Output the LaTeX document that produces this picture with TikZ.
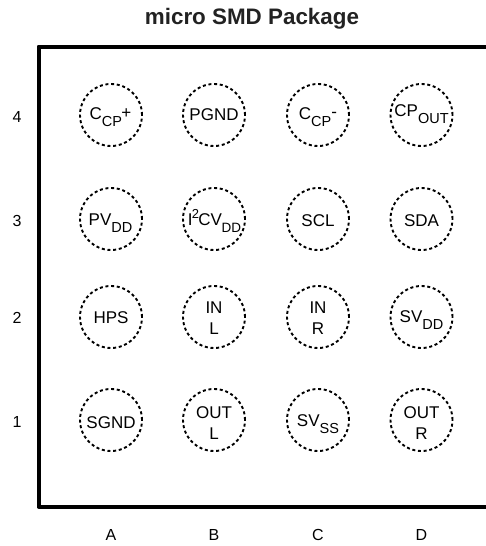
\documentclass[tikz,border=0pt]{standalone}
\usepackage{fontspec}
\setmainfont{Liberation Sans}
\definecolor{titleink}{HTML}{222222}
\tikzset{
  pin/.style={circle,draw=black,line width=1.9pt,dash pattern=on 3pt off 2.7pt,minimum size=62pt,inner sep=0pt},
  pintext/.style={inner sep=0pt,align=center,font=\fontsize{17}{21}\selectfont},
  lab/.style={inner sep=0pt,font=\fontsize{16}{18}\selectfont}
}
\newcommand{\sbs}[1]{\smash{\raisebox{-7pt}{\fontsize{14.5}{15}\selectfont #1}}}
\newcommand{\sps}[2]{\smash{\raisebox{#1}{\fontsize{17}{15}\selectfont #2}}}
\begin{document}
\begin{tikzpicture}[x=1pt,y=-1pt]
\useasboundingbox (0,0) rectangle (486,546);
\node[inner sep=0pt,anchor=base,text=titleink,font=\bfseries\fontsize{22.4}{25}\selectfont] (title) at (252,24.5) {micro SMD Package};
\draw[line width=4pt,line join=round] (486,46.5) -- (38.5,46.5) -- (38.5,506.5) -- (486,506.5);
\foreach \c/\x in {a/111,b/214,c/318,d/421.5}
  \foreach \r/\y in {4/115,3/219,2/317,1/420}
    \node[pin] (\c\r) at (\x,\y) {};
\node[pintext,anchor=base] (ta4) at (110.5,119.5) {C\sbs{CP}\kern-0.5pt\sps{1.5pt}{+}};
\node[pintext,anchor=base] (tb4) at (214,120) {PGND};
\node[pintext,anchor=base] (tc4) at (318,119.5) {C\sbs{CP}\sps{2.5pt}{-}};
\node[pintext,anchor=base] (td4) at (421.5,116) {CP\sbs{OUT}};
\node[pintext,anchor=base] (ta3) at (110.5,225.5) {PV\sbs{DD}};
\node[pintext,anchor=base] (tb3) at (214.5,225.5) {I\kern-0.6pt\smash{\raisebox{7.5pt}{\fontsize{13}{13}\selectfont 2}}\kern-0.8pt CV\kern-0.4pt\smash{\raisebox{-7pt}{\fontsize{13.5}{14}\selectfont DD}}};
\node[pintext,anchor=base] (tc3) at (318,226.5) {SCL};
\node[pintext,anchor=base] (td3) at (421.5,226.5) {SDA};
\node[pintext,anchor=base] (ta2) at (111,323.3) {HPS};
\node[pintext] (tb2) at (214,318) {IN\\L};
\node[pintext] (tc2) at (318,318) {IN\\R};
\node[pintext,anchor=base] (td2) at (421.5,322.5) {SV\sbs{DD}};
\node[pintext,anchor=base] (ta1) at (111,428) {SGND};
\node[pintext] (tb1) at (214,423) {OUT\\L};
\node[pintext,anchor=base] (tc1) at (318,426.5) {SV\sbs{SS}};
\node[pintext] (td1) at (421.5,423) {OUT\\R};
\node[lab] (r4) at (17,117) {4};
\node[lab] (r3) at (17,221) {3};
\node[lab] (r2) at (17,317.5) {2};
\node[lab] (r1) at (17,421.5) {1};
\node[lab] (ca) at (111,535) {A};
\node[lab] (cb) at (214,535) {B};
\node[lab] (cc) at (318,535) {C};
\node[lab] (cd) at (421.5,535) {D};
\end{tikzpicture}
\end{document}
